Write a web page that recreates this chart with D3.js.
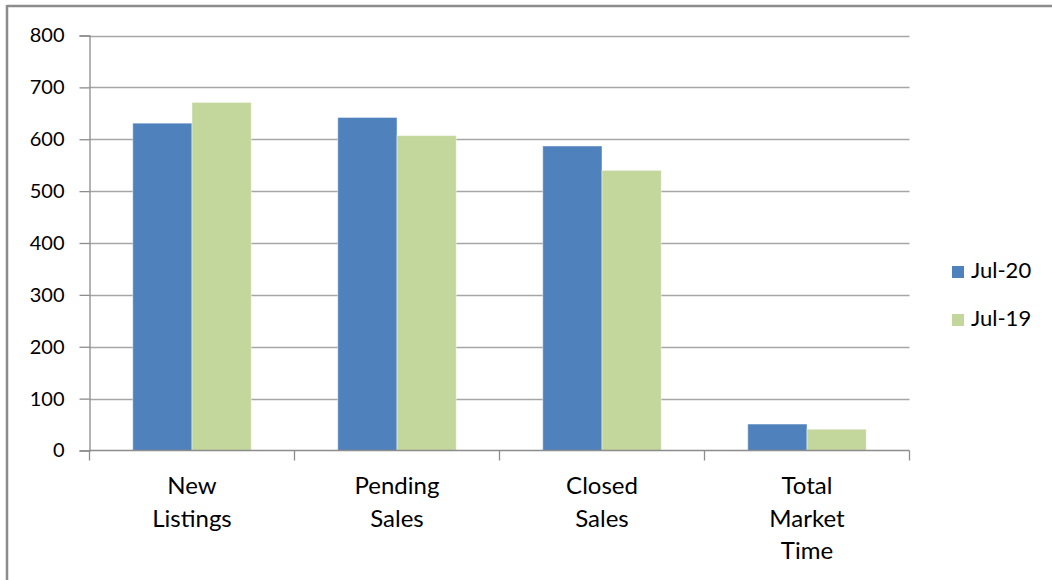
<!DOCTYPE html>
<html>
<head>
<meta charset="utf-8">
<script src="https://cdn.jsdelivr.net/npm/d3@7"></script>
<style>
  html, body { margin: 0; padding: 0; background: #fff; }
  svg { display: block; font-family: Lato, "Open Sans", sans-serif; }
</style>
</head>
<body>
<svg id="chart" width="1052" height="580"></svg>
<script>
// Market activity, July 2020 vs July 2019
const categories = [["New", "Listings"], ["Pending", "Sales"], ["Closed", "Sales"], ["Total", "Market", "Time"]];
const seriesNames = ["Jul-20", "Jul-19"];
const jul20 = [631, 642, 587, 51];
const jul19 = [671, 607, 540, 41];
const yTicks = [0, 100, 200, 300, 400, 500, 600, 700, 800];
const colors = ["#4F81BD", "#C3D69B"];

const svg = d3.select("#chart");
const plot = { left: 89.5, right: 909.5, top: 35.5, bottom: 450.5 };

// outer frame (top and left edges)
svg.append("line").attr("x1", 7).attr("x2", 1052).attr("y1", 6).attr("y2", 6)
  .attr("stroke", "#8c8c8c").attr("stroke-width", 2.5);
svg.append("line").attr("x1", 7).attr("x2", 7).attr("y1", 5).attr("y2", 580)
  .attr("stroke", "#8c8c8c").attr("stroke-width", 2.5);

const y = d3.scaleLinear().domain([0, 800]).range([plot.bottom, plot.top]);
const x0 = d3.scaleBand().domain(d3.range(categories.length)).range([plot.left, plot.right]).paddingInner(0).paddingOuter(0);
const x1 = d3.scaleBand().domain(d3.range(seriesNames.length)).range([0, x0.bandwidth()]).paddingInner(0).paddingOuter(0.73);

// horizontal gridlines
svg.append("g").selectAll("line").data(yTicks.filter(d => d > 0)).join("line")
  .attr("x1", plot.left).attr("x2", plot.right)
  .attr("y1", d => Math.round(y(d)) + 0.5).attr("y2", d => Math.round(y(d)) + 0.5)
  .attr("stroke", "#a6a6a6").attr("stroke-width", 1.3);

// y axis
const yAxis = svg.append("g").attr("transform", `translate(${plot.left},0)`)
  .call(d3.axisLeft(y).tickValues(yTicks).tickSize(10).tickPadding(15));
yAxis.select(".domain").attr("stroke", "#8c8c8c").attr("stroke-width", 1.3);
yAxis.selectAll(".tick line").attr("stroke", "#8c8c8c").attr("stroke-width", 1.3);
yAxis.selectAll(".tick text").attr("font-size", 20).attr("fill", "#000")
  .attr("font-family", "Lato, sans-serif");

// bars
const series = [jul20, jul19];
const groups = svg.append("g").selectAll("g").data(categories).join("g")
  .attr("transform", (d, i) => `translate(${x0(i)},0)`);
groups.selectAll("rect").data((d, i) => series.map((s, k) => ({ k, v: s[i] }))).join("rect")
  .attr("x", d => x1(d.k))
  .attr("width", x1.bandwidth())
  .attr("y", d => y(d.v))
  .attr("height", d => plot.bottom - y(d.v))
  .attr("fill", d => colors[d.k])
  .attr("stroke", "rgba(255,255,255,0.45)").attr("stroke-width", 1);

// x axis
const xAxis = svg.append("g").attr("transform", `translate(0,${plot.bottom})`);
xAxis.append("line").attr("x1", plot.left).attr("x2", plot.right).attr("y1", 0).attr("y2", 0)
  .attr("stroke", "#8c8c8c").attr("stroke-width", 1.3);
xAxis.selectAll("line.tick").data(d3.range(categories.length + 1)).join("line")
  .attr("class", "tick")
  .attr("x1", i => plot.left + i * x0.bandwidth()).attr("x2", i => plot.left + i * x0.bandwidth())
  .attr("y1", 0).attr("y2", 10)
  .attr("stroke", "#8c8c8c").attr("stroke-width", 1.3);

const labels = svg.append("g").selectAll("text").data(categories).join("text")
  .attr("text-anchor", "middle").attr("font-size", 24).attr("fill", "#000");
labels.selectAll("tspan").data((d, i) => d.map(t => ({ t, i }))).join("tspan")
  .attr("x", d => x0(d.i) + x0.bandwidth() / 2)
  .attr("y", (d, j) => 494 + j * 32.5)
  .text(d => d.t);

// legend
const legend = svg.append("g").selectAll("g").data(seriesNames).join("g")
  .attr("transform", (d, i) => `translate(952,${266 + i * 48})`);
legend.append("rect").attr("width", 12).attr("height", 12)
  .attr("fill", (d, i) => colors[i]);
legend.append("text").attr("x", 19).attr("y", 11.5)
  .attr("font-size", 22).attr("fill", "#000").text(d => d);
</script>
</body>
</html>
